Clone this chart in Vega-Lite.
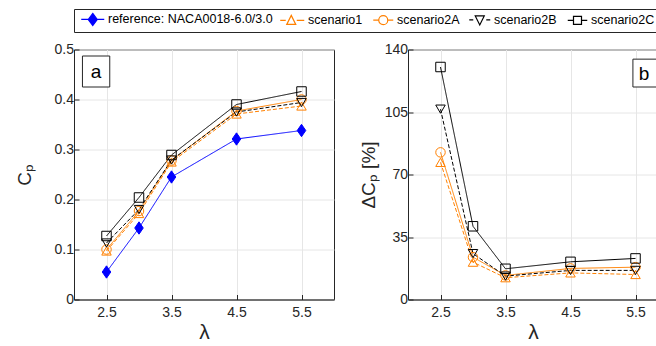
{
  "$schema": "https://vega.github.io/schema/vega-lite/v6.json",
  "padding": {"left": 14, "top": 8, "right": 0, "bottom": 0},
  "background": "white",
  "datasets": {
    "cp": [
      {"lambda": 2.5, "value": 0.055, "series": "reference"},
      {"lambda": 3.0, "value": 0.143, "series": "reference"},
      {"lambda": 3.5, "value": 0.245, "series": "reference"},
      {"lambda": 4.5, "value": 0.321, "series": "reference"},
      {"lambda": 5.5, "value": 0.338, "series": "reference"},
      {"lambda": 2.5, "value": 0.097, "series": "scenario1"},
      {"lambda": 3.0, "value": 0.172, "series": "scenario1"},
      {"lambda": 3.5, "value": 0.275, "series": "scenario1"},
      {"lambda": 4.5, "value": 0.371, "series": "scenario1"},
      {"lambda": 5.5, "value": 0.387, "series": "scenario1"},
      {"lambda": 2.5, "value": 0.100, "series": "scenario2A"},
      {"lambda": 3.0, "value": 0.177, "series": "scenario2A"},
      {"lambda": 3.5, "value": 0.278, "series": "scenario2A"},
      {"lambda": 4.5, "value": 0.377, "series": "scenario2A"},
      {"lambda": 5.5, "value": 0.400, "series": "scenario2A"},
      {"lambda": 2.5, "value": 0.113, "series": "scenario2B"},
      {"lambda": 3.0, "value": 0.180, "series": "scenario2B"},
      {"lambda": 3.5, "value": 0.279, "series": "scenario2B"},
      {"lambda": 4.5, "value": 0.375, "series": "scenario2B"},
      {"lambda": 5.5, "value": 0.394, "series": "scenario2B"},
      {"lambda": 2.5, "value": 0.127, "series": "scenario2C"},
      {"lambda": 3.0, "value": 0.204, "series": "scenario2C"},
      {"lambda": 3.5, "value": 0.289, "series": "scenario2C"},
      {"lambda": 4.5, "value": 0.390, "series": "scenario2C"},
      {"lambda": 5.5, "value": 0.416, "series": "scenario2C"}
    ],
    "dcp": [
      {"lambda": 2.5, "value": 76.8, "series": "scenario1"},
      {"lambda": 3.0, "value": 20.9, "series": "scenario1"},
      {"lambda": 3.5, "value": 12.2, "series": "scenario1"},
      {"lambda": 4.5, "value": 14.9, "series": "scenario1"},
      {"lambda": 5.5, "value": 14.0, "series": "scenario1"},
      {"lambda": 2.5, "value": 82.4, "series": "scenario2A"},
      {"lambda": 3.0, "value": 23.7, "series": "scenario2A"},
      {"lambda": 3.5, "value": 13.5, "series": "scenario2A"},
      {"lambda": 4.5, "value": 17.4, "series": "scenario2A"},
      {"lambda": 5.5, "value": 18.1, "series": "scenario2A"},
      {"lambda": 2.5, "value": 106.6, "series": "scenario2B"},
      {"lambda": 3.0, "value": 25.7, "series": "scenario2B"},
      {"lambda": 3.5, "value": 13.1, "series": "scenario2B"},
      {"lambda": 4.5, "value": 16.3, "series": "scenario2B"},
      {"lambda": 5.5, "value": 16.3, "series": "scenario2B"},
      {"lambda": 2.5, "value": 130.2, "series": "scenario2C"},
      {"lambda": 3.0, "value": 41.0, "series": "scenario2C"},
      {"lambda": 3.5, "value": 17.2, "series": "scenario2C"},
      {"lambda": 4.5, "value": 21.1, "series": "scenario2C"},
      {"lambda": 5.5, "value": 23.0, "series": "scenario2C"}
    ],
    "legendrows": []
  },
  "spacing": 8.5,
  "vconcat": [
    {
      "width": 1,
      "height": 1,
      "view": {"stroke": null},
      "data": {"name": "legendrows"},
      "mark": {"type": "point", "filled": false, "opacity": 1, "strokeWidth": 1.2, "size": 100},
      "encoding": {
        "color": {"field": "series", "type": "nominal",
                  "scale": {"domain": ["reference", "scenario1", "scenario2A", "scenario2B", "scenario2C"], "range": ["#0000ff", "#ff8000", "#ff8000", "#000000", "#000000"]},
                  "legend": {"orient": "none", "legendX": 0, "legendY": 0, "direction": "horizontal", "columns": 5, "title": null,
                             "labelExpr": "datum.value === 'reference' ? 'reference: NACA0018-6.0/3.0' : datum.value",
                             "labelFont": "Liberation Sans", "labelFontSize": 12.5, "labelColor": "#000000", "labelLimit": 400,
                             "strokeColor": "#262626", "fillColor": "white", "padding": 4, "symbolSize": 100, "symbolStrokeWidth": 1.2, "symbolOpacity": 1,
                             "symbolFillColor": "transparent", "symbolStrokeColor": "#000000",
                             "labelOffset": 17.5, "columnPadding": 4}},
        "fill": {"field": "series", "type": "nominal",
                 "scale": {"domain": ["reference", "scenario1", "scenario2A", "scenario2B", "scenario2C"], "range": ["#0000ff", "transparent", "transparent", "transparent", "transparent"]}},
        "shape": {"field": "series", "type": "nominal",
                  "scale": {"domain": ["reference", "scenario1", "scenario2A", "scenario2B", "scenario2C"],
                            "range": ["M-0.6,0H0.8M2.6,0H4M1.7,-1.2L2.6,0L1.7,1.2L0.8,0Z",
                                      "M-0.8,0H0.3M2.5,0H4M1.4,-1L2.3,0.8L0.5,0.8Z",
                                      "M0,0H1.1M2.9,0H4M2.9,0A0.9,0.9 0 1,1 1.1,0A0.9,0.9 0 1,1 2.9,0Z",
                                      "M-0.2,0H0.6M1,-0.8H2.8L1.9,1ZM3.2,0H4",
                                      "M0.1,0H1.25M2.85,0H4M1.25,-0.8H2.85V0.8H1.25Z"]}}
      }
    },
    {
      "spacing": 23,
      "resolve": {"scale": {"x": "independent", "y": "independent"}},
      "hconcat": [
        {
          "width": 260,
          "height": 250,
          "layer": [
            {
              "data": {"name": "cp"},
              "mark": {"type": "line", "strokeWidth": 1, "clip": true},
              "encoding": {
                "x": {"field": "lambda", "type": "quantitative", "scale": {"domain": [2, 6], "nice": false},
                      "axis": {"values": [2.5, 3.5, 4.5, 5.5], "format": ".1f", "title": "λ"}},
                "y": {"field": "value", "type": "quantitative", "scale": {"domain": [0, 0.5], "nice": false},
                      "axis": {"values": [0, 0.1, 0.2, 0.3, 0.4, 0.5], "labelExpr": "datum.value === 0 ? '0' : format(datum.value, '.1f')", "title": "Cₚ", "titlePadding": 20}},
                "color": {"field": "series", "type": "nominal", "legend": null,
                          "scale": {"domain": ["reference", "scenario1", "scenario2A", "scenario2B", "scenario2C"], "range": ["#0000ff", "#ff8000", "#ff8000", "#000000", "#000000"]}},
                "strokeDash": {"field": "series", "type": "nominal", "legend": null,
                               "scale": {"domain": ["reference", "scenario1", "scenario2A", "scenario2B", "scenario2C"], "range": [[1, 0], [4, 2], [1, 0], [4, 2], [1, 0]]}}
              }
            },
            {
              "data": {"name": "cp"},
              "mark": {"type": "point", "size": 90, "opacity": 1, "strokeWidth": 1},
              "encoding": {
                "x": {"field": "lambda", "type": "quantitative", "scale": {"domain": [2, 6], "nice": false}},
                "y": {"field": "value", "type": "quantitative", "scale": {"domain": [0, 0.5], "nice": false}},
                "color": {"field": "series", "type": "nominal", "legend": null, "scale": {"domain": ["reference", "scenario1", "scenario2A", "scenario2B", "scenario2C"], "range": ["#0000ff", "#ff8000", "#ff8000", "#000000", "#000000"]}},
                "fill": {"field": "series", "type": "nominal", "legend": null, "scale": {"domain": ["reference", "scenario1", "scenario2A", "scenario2B", "scenario2C"], "range": ["#0000ff", "transparent", "transparent", "transparent", "transparent"]}},
                "shape": {"field": "series", "type": "nominal", "legend": null, "scale": {"domain": ["reference", "scenario1", "scenario2A", "scenario2B", "scenario2C"], "range": ["M0,-1.3L0.9,0L0,1.3L-0.9,0Z", "triangle-up", "circle", "triangle-down", "square"]}}
              }
            },
            {
              "data": {"values": [{}]},
              "mark": {"type": "rect", "fill": "white", "stroke": "#262626", "strokeWidth": 1},
              "encoding": {
                "x": {"datum": 2.13, "type": "quantitative", "scale": {"domain": [2, 6], "nice": false}},
                "x2": {"datum": 2.55},
                "y": {"datum": 0.425, "type": "quantitative", "scale": {"domain": [0, 0.5], "nice": false}},
                "y2": {"datum": 0.487}
              }
            },
            {
              "data": {"values": [{}]},
              "mark": {"type": "text", "text": "a", "font": "Liberation Sans", "fontSize": 19, "align": "center", "baseline": "middle", "color": "#000000"},
              "encoding": {
                "x": {"datum": 2.34, "type": "quantitative", "scale": {"domain": [2, 6], "nice": false}},
                "y": {"datum": 0.456, "type": "quantitative", "scale": {"domain": [0, 0.5], "nice": false}}
              }
            }
          ]
        },
        {
          "width": 250,
          "height": 250,
          "layer": [
            {
              "data": {"name": "dcp"},
              "mark": {"type": "line", "strokeWidth": 1, "clip": true},
              "encoding": {
                "x": {"field": "lambda", "type": "quantitative", "scale": {"domain": [2, 5.846], "nice": false},
                      "axis": {"values": [2.5, 3.5, 4.5, 5.5], "format": ".1f", "title": "λ"}},
                "y": {"field": "value", "type": "quantitative", "scale": {"domain": [0, 140], "nice": false},
                      "axis": {"values": [0, 35, 70, 105, 140], "title": "ΔCₚ [%]"}},
                "color": {"field": "series", "type": "nominal", "legend": null, "scale": {"domain": ["reference", "scenario1", "scenario2A", "scenario2B", "scenario2C"], "range": ["#0000ff", "#ff8000", "#ff8000", "#000000", "#000000"]}},
                "strokeDash": {"field": "series", "type": "nominal", "legend": null,
                               "scale": {"domain": ["reference", "scenario1", "scenario2A", "scenario2B", "scenario2C"], "range": [[1, 0], [4, 2], [1, 0], [4, 2], [1, 0]]}}
              }
            },
            {
              "data": {"name": "dcp"},
              "mark": {"type": "point", "size": 90, "opacity": 1, "strokeWidth": 1},
              "encoding": {
                "x": {"field": "lambda", "type": "quantitative", "scale": {"domain": [2, 5.846], "nice": false}},
                "y": {"field": "value", "type": "quantitative", "scale": {"domain": [0, 140], "nice": false}},
                "color": {"field": "series", "type": "nominal", "legend": null, "scale": {"domain": ["reference", "scenario1", "scenario2A", "scenario2B", "scenario2C"], "range": ["#0000ff", "#ff8000", "#ff8000", "#000000", "#000000"]}},
                "fill": {"field": "series", "type": "nominal", "legend": null, "scale": {"domain": ["reference", "scenario1", "scenario2A", "scenario2B", "scenario2C"], "range": ["#0000ff", "transparent", "transparent", "transparent", "transparent"]}},
                "shape": {"field": "series", "type": "nominal", "legend": null, "scale": {"domain": ["reference", "scenario1", "scenario2A", "scenario2B", "scenario2C"], "range": ["M0,-1.3L0.9,0L0,1.3L-0.9,0Z", "triangle-up", "circle", "triangle-down", "square"]}}
              }
            },
            {
              "data": {"values": [{}]},
              "mark": {"type": "rect", "fill": "white", "stroke": "#262626", "strokeWidth": 1},
              "encoding": {
                "x": {"datum": 5.46, "type": "quantitative", "scale": {"domain": [2, 5.846], "nice": false}},
                "x2": {"datum": 5.846},
                "y": {"datum": 119, "type": "quantitative", "scale": {"domain": [0, 140], "nice": false}},
                "y2": {"datum": 134.6}
              }
            },
            {
              "data": {"values": [{}]},
              "mark": {"type": "text", "text": "b", "font": "Liberation Sans", "fontSize": 19, "align": "center", "baseline": "middle", "color": "#000000"},
              "encoding": {
                "x": {"datum": 5.63, "type": "quantitative", "scale": {"domain": [2, 5.846], "nice": false}},
                "y": {"datum": 126.5, "type": "quantitative", "scale": {"domain": [0, 140], "nice": false}}
              }
            }
          ]
        }
      ]
    }
  ],
  "resolve": {"scale": {"color": "independent", "fill": "independent", "shape": "independent", "strokeDash": "independent"}},
  "config": {
    "view": {"stroke": "#262626", "strokeWidth": 1},
    "axis": {
      "labelFont": "Liberation Sans", "labelFontSize": 14, "labelColor": "#262626",
      "titleFont": "Liberation Sans", "titleFontWeight": "normal", "titleColor": "#262626", "titleFontSize": 19,
      "gridColor": "#e6e6e6", "gridWidth": 1, "domainColor": "#262626", "tickColor": "#262626",
      "tickSize": -5, "labelPadding": 5.5, "titlePadding": 6
    },
    "axisX": {"labelPadding": 11, "titleFontSize": 21, "titlePadding": 2, "labelAngle": 0}
  }
}
